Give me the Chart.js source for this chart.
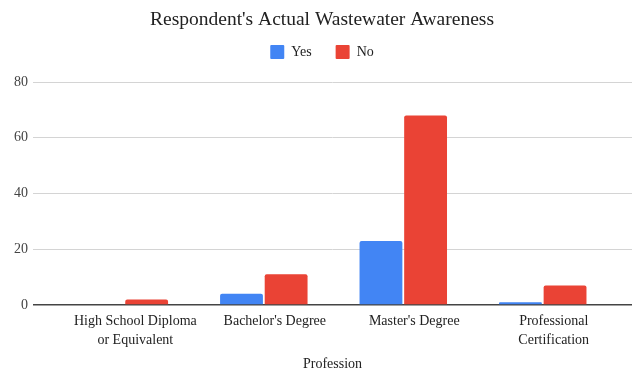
<!DOCTYPE html>
<html>
<head>
<meta charset="utf-8">
<script src="https://cdn.jsdelivr.net/npm/chart.js@4"></script>
<style>
  html, body { margin: 0; padding: 0; background: #fff; }
  #wrap { width: 637px; height: 371px; }
</style>
</head>
<body>
<div id="wrap"><canvas id="c" width="637" height="371"></canvas></div>
<script>
// Education levels (tick labels, multi-line where wrapped)
const categories = [
  ["High School Diploma", "or Equivalent"],
  ["Bachelor's Degree"],
  ["Master's Degree"],
  ["Professional", "Certification"]
];
// Counts of respondents per awareness answer
const yesValues = [0, 4, 23, 1];
const noValues = [2, 11, 68, 7];
const yTicks = [0, 20, 40, 60, 80];

const serif = "'Liberation Serif', 'Times New Roman', serif";
const toPoints = arr => arr.map((v, i) => ({ x: i, y: v }));

// Leaves a little extra room between the legend row and the plot
const legendGap = {
  id: 'legendGap',
  beforeUpdate(chart) {
    const lg = chart.legend;
    if (lg && !lg._gapPatched) {
      const fit = lg.fit;
      lg.fit = function () { fit.call(this); this.height += 13; };
      lg._gapPatched = true;
    }
  }
};

new Chart(document.getElementById('c'), {
  type: 'bar',
  plugins: [legendGap],
  data: {
    datasets: [
      { label: 'Yes', data: toPoints(yesValues), backgroundColor: '#4285F4',
        borderRadius: 2, borderSkipped: 'bottom',
        barPercentage: 0.96, categoryPercentage: 0.64 },
      { label: 'No', data: toPoints(noValues), backgroundColor: '#EA4335',
        borderRadius: 2, borderSkipped: 'bottom',
        barPercentage: 0.96, categoryPercentage: 0.64 }
    ]
  },
  options: {
    responsive: false,
    devicePixelRatio: 1,
    animation: false,
    layout: { padding: { left: 12, right: 5, top: 0, bottom: 0 } },
    plugins: {
      title: {
        display: true,
        text: "Respondent's Actual Wastewater Awareness",
        color: '#222',
        font: { family: serif, size: 19.5, weight: 'normal', lineHeight: 1.2 },
        padding: { top: 8, bottom: -10.4 }
      },
      legend: {
        display: true,
        labels: {
          color: '#222',
          font: { family: serif, size: 14 },
          boxWidth: 14, boxHeight: 14, padding: 24,
          useBorderRadius: true, borderRadius: 1
        }
      },
      tooltip: { enabled: false }
    },
    scales: {
      x: {
        type: 'linear',
        min: -0.655,
        max: 3.64,
        offset: false,
        grid: { display: false, drawTicks: false },
        border: { display: false },
        afterBuildTicks: s => { s.ticks = categories.map((_, i) => ({ value: i })); },
        afterFit: s => { s.height = 66; },
        ticks: {
          autoSkip: false, maxRotation: 0, minRotation: 0,
          color: '#222', padding: 7, labelOffset: 11,
          font: { family: serif, size: 14, lineHeight: 1.36 },
          callback: v => categories[v]
        },
        title: {
          display: true, text: 'Profession', color: '#222',
          font: { family: serif, size: 14, lineHeight: 1.0 },
          padding: { top: 4, bottom: 0 }
        }
      },
      y: {
        min: 0, max: 80,
        afterBuildTicks: s => { s.ticks = yTicks.map(v => ({ value: v })); },
        afterFit: s => { s.width = 21; },
        grid: {
          drawTicks: false,
          color: ctx => ctx.tick && ctx.tick.value === 0 ? '#444' : '#d4d4d4',
          lineWidth: ctx => ctx.tick && ctx.tick.value === 0 ? 1.5 : 1
        },
        border: { display: false },
        ticks: {
          color: '#444', padding: 5,
          font: { family: serif, size: 14 }
        }
      }
    }
  }
});
</script>
</body>
</html>
